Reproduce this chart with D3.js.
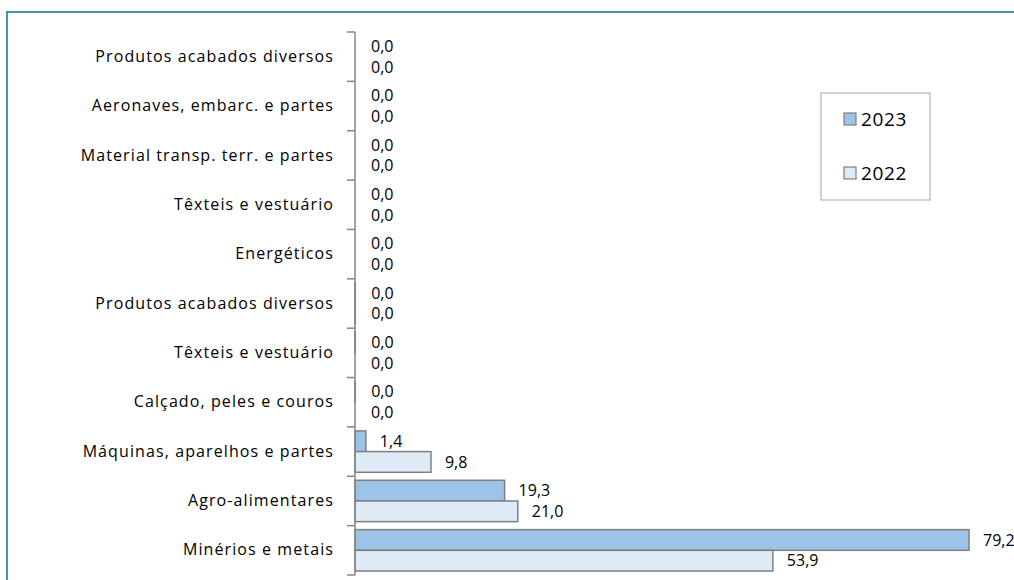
<!DOCTYPE html>
<html>
<head>
<meta charset="utf-8">
<script src="https://cdn.jsdelivr.net/npm/d3@7"></script>
<style>
  body { margin: 0; background: #fff; }
  svg { display: block; font-family: "Open Sans", Lato, sans-serif; }
</style>
</head>
<body>
<svg id="chart" width="1014" height="580"></svg>
<script>
// Chart data (top to bottom as drawn)
const categories = [
  "Produtos acabados diversos",
  "Aeronaves, embarc. e partes",
  "Material transp. terr. e partes",
  "Têxteis e vestuário",
  "Energéticos",
  "Produtos acabados diversos",
  "Têxteis e vestuário",
  "Calçado, peles e couros",
  "Máquinas, aparelhos e partes",
  "Agro-alimentares",
  "Minérios e metais"
];
const values2023 = [0, 0, 0, 0, 0, 0.03, 0.03, 0.03, 1.4, 19.3, 79.2];
const values2022 = [0, 0, 0, 0, 0, 0.02, 0, 0, 9.8, 21.0, 53.9];
const seriesNames = ["2023", "2022"];
const seriesColors = ["#9dc3e6", "#deebf7"];

const svg = d3.select("#chart");
const fmt = v => d3.format(".1f")(v).replace(".", ",");

// Outer chart border (cropped at right and bottom)
svg.append("rect")
  .attr("x", 7)
  .attr("y", 12)
  .attr("width", 1200)
  .attr("height", 800)
  .attr("fill", "none")
  .attr("stroke", "#4a93ab")
  .attr("stroke-width", 2);

const x0 = 355;
const x = d3.scaleLinear().domain([0, 79.2]).range([x0, 969]);
const y = d3.scaleBand()
  .domain(d3.range(categories.length))
  .range([32, 575]);
const ySub = d3.scaleBand()
  .domain(seriesNames)
  .range([4, y.bandwidth() - 4]);

const rows = categories.map((c, i) => ({
  i,
  name: c,
  vals: [values2023[i], values2022[i]]
}));

// Bars
const groups = svg.selectAll("g.row")
  .data(rows)
  .enter()
  .append("g")
  .attr("class", "row")
  .attr("transform", d => `translate(0,${y(d.i)})`);

groups.selectAll("rect")
  .data(d => d.vals.map((v, k) => ({ v, s: seriesNames[k], k })))
  .enter()
  .append("rect")
  .attr("x", x0)
  .attr("y", d => ySub(d.s))
  .attr("width", d => x(d.v) - x0)
  .attr("height", ySub.bandwidth())
  .attr("fill", d => seriesColors[d.k])
  .attr("stroke", d => d.v > 0 ? "#7f7f7f" : "none")
  .attr("stroke-width", 1.5);

// Value labels
groups.selectAll("text.val")
  .data(d => d.vals.map((v, k) => ({ v, s: seriesNames[k] })))
  .enter()
  .append("text")
  .attr("class", "val")
  .attr("x", d => Math.max(x(d.v), x0) + (d.v < 1 ? 16 : 14))
  .attr("y", d => ySub(d.s) + ySub.bandwidth() / 2)
  .attr("dy", "0.35em")
  .style("font-size", "16px")
  .attr("fill", "#000")
  .text(d => fmt(d.v));

// Category axis
const axis = d3.axisLeft(y)
  .tickSize(0)
  .tickPadding(21)
  .tickFormat(i => categories[i]);

const axisG = svg.append("g")
  .attr("transform", `translate(${x0},0)`)
  .call(axis);
axisG.select(".domain").remove();
axisG.selectAll("text")
  .style("font-size", "16px")
  .style("letter-spacing", "1.1px")
  .style("font-family", "'Open Sans', Lato, sans-serif")
  .attr("fill", "#000");

svg.append("line")
  .attr("x1", x0).attr("x2", x0)
  .attr("y1", y.range()[0]).attr("y2", y.range()[1])
  .attr("stroke", "#868686")
  .attr("stroke-width", 1.5);

const edges = d3.range(categories.length).map(i => y(i)).concat([y.range()[1]]);
svg.selectAll("line.edge")
  .data(edges)
  .enter()
  .append("line")
  .attr("class", "edge")
  .attr("x1", x0 - 8).attr("x2", x0)
  .attr("y1", d => d).attr("y2", d => d)
  .attr("stroke", "#868686")
  .attr("stroke-width", 1.5);

// Legend
const legend = svg.append("g").attr("transform", "translate(821,93)");
legend.append("rect")
  .attr("width", 109)
  .attr("height", 107)
  .attr("fill", "#fff")
  .attr("stroke", "#a6a6a6")
  .attr("stroke-width", 1);

const legendY = d3.scalePoint().domain(seriesNames).range([26, 80]);
seriesNames.forEach((s, k) => {
  legend.append("rect")
    .attr("x", 23)
    .attr("y", legendY(s) - 6)
    .attr("width", 12)
    .attr("height", 12)
    .attr("fill", seriesColors[k])
    .attr("stroke", "#7f7f7f")
    .attr("stroke-width", 1.2);
  legend.append("text")
    .attr("x", 40)
    .attr("y", legendY(s))
    .attr("dy", "0.35em")
    .style("font-size", "19px")
    .style("letter-spacing", "0.6px")
    .attr("fill", "#000")
    .text(s);
});
</script>
</body>
</html>
